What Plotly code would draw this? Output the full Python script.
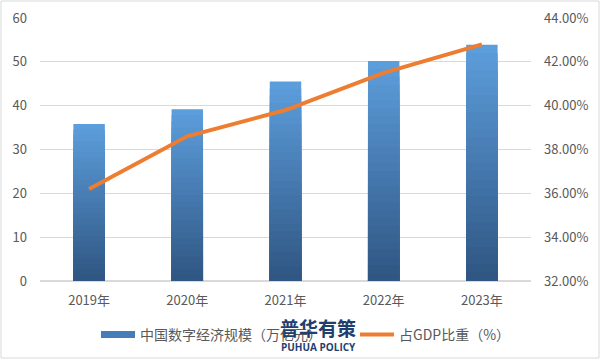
import plotly.graph_objects as go

years = ["2019年", "2020年", "2021年", "2022年", "2023年"]
scale = [35.8, 39.2, 45.5, 50.2, 53.9]
share = [0.362, 0.386, 0.398, 0.415, 0.428]

bar_name = "中国数字经济规模（万亿元）"
line_name = "占GDP比重（%）"

font_family = "Noto Sans CJK SC, Noto Sans, sans-serif"
gray = "#595959"
top_rgb = (92, 157, 219)
bot_rgb = (46, 84, 128)

L, R, T, B = 40, 70, 18, 79
PW, PH = 601 - L - R, 360 - T - B

fig = go.Figure()
# vertical gradient per bar: overlay shorter, darker copies of each bar
N = 28
for i in range(N):
    f = 1 - i / N
    c = tuple(round(bot_rgb[k] + (top_rgb[k] - bot_rgb[k]) * f) for k in range(3))
    fig.add_trace(go.Bar(
        x=years, y=[v * f for v in scale], showlegend=False, hoverinfo="skip" if i else None,
        marker=dict(color="rgb(%d,%d,%d)" % c, line=dict(width=0)),
        width=0.32, name=bar_name,
    ))
# legend swatch for the bars
fig.add_trace(go.Scatter(
    x=[years[0]], y=[None], name=bar_name, mode="lines", legend="legend",
    line=dict(color="rgb(70,125,185)", width=7),
))
fig.add_trace(go.Scatter(
    x=years, y=share, name=line_name, yaxis="y2", legend="legend2",
    mode="lines", line=dict(color="#ED7D31", width=4),
))

legend_common = dict(orientation="h", xanchor="left", y=-(335 - 281) / PH, yanchor="middle",
                     font=dict(size=14, color=gray), itemwidth=34, bgcolor="rgba(0,0,0,0)")

fig.update_layout(
    width=601, height=360,
    margin=dict(l=L, r=R, t=T, b=B, autoexpand=False),
    barmode="overlay",
    paper_bgcolor="white", plot_bgcolor="white",
    font=dict(family=font_family, size=13, color=gray),
    showlegend=True,
    legend=dict(x=(96 - L) / PW, **legend_common),
    legend2=dict(x=(355 - L) / PW, **legend_common),
    xaxis=dict(showgrid=False, showline=False, ticks="", automargin=False,
               tickfont=dict(size=13, color=gray), ticklabelstandoff=10),
    yaxis=dict(range=[0, 60], dtick=10, showgrid=True, gridcolor="#D9D9D9", gridwidth=1,
               zeroline=True, zerolinecolor="#D9D9D9", ticks="", automargin=False,
               tickfont=dict(size=13, color=gray), ticklabelstandoff=12),
    yaxis2=dict(range=[0.32, 0.44], dtick=0.02, tickformat=".2%", overlaying="y", side="right",
                showgrid=False, zeroline=False, ticks="", automargin=False,
                tickfont=dict(size=13, color=gray), ticklabelstandoff=12),
    shapes=[dict(type="rect", xref="paper", yref="paper", x0=-(L - 1) / PW, x1=1 + (R - 2) / PW,
                 y0=-(B - 2) / PH, y1=1 + (T - 1) / PH, line=dict(color="#D9D9D9", width=1))],
)
fig.add_annotation(text="<b>普华有策</b>", x=(318 - L) / PW, y=-(327 - 281) / PH, xref="paper", yref="paper",
                   showarrow=False, xanchor="center", yanchor="middle",
                   font=dict(size=19, color="#1F3F6E", family=font_family))
fig.add_annotation(text="<b>PUHUA POLICY</b>", x=(318 - L) / PW, y=-(347 - 281) / PH, xref="paper", yref="paper",
                   showarrow=False, xanchor="center", yanchor="middle",
                   font=dict(size=10, color="#1F3F6E", family="Open Sans, sans-serif"))

fig.write_html("out.html", config={"displayModeBar": False},
               post_script="document.body.style.margin='0';document.body.style.overflow='hidden';")
